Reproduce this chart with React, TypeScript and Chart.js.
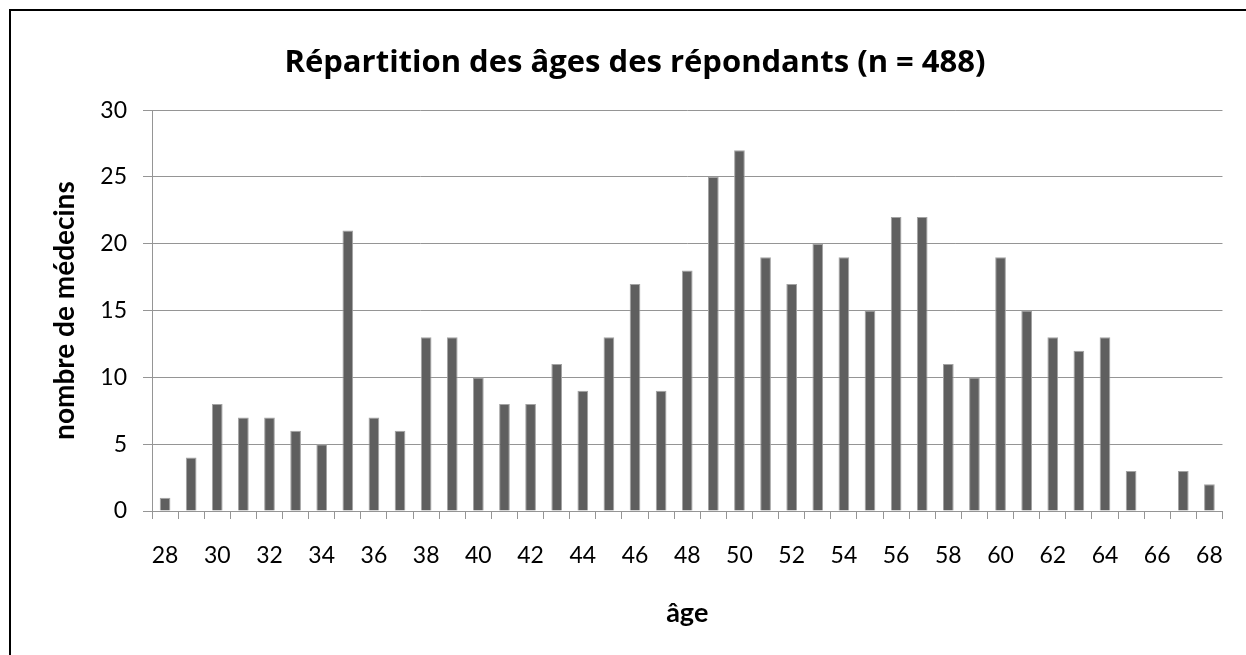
import React, { useEffect, useRef } from "react";
import { Chart, registerables } from "chart.js";

Chart.register(...registerables);

const ages: string[] = [
  "28", "29", "30", "31", "32", "33", "34", "35", "36", "37",
  "38", "39", "40", "41", "42", "43", "44", "45", "46", "47",
  "48", "49", "50", "51", "52", "53", "54", "55", "56", "57",
  "58", "59", "60", "61", "62", "63", "64", "65", "66", "67", "68",
];

const counts: number[] = [
  1, 4, 8, 7, 7, 6, 5, 21, 7, 6,
  13, 13, 10, 8, 8, 11, 9, 13, 17, 9,
  18, 25, 27, 19, 17, 20, 19, 15, 22, 22,
  11, 10, 19, 15, 13, 12, 13, 3, 0, 3, 2,
];

const yTicks: number[] = [0, 5, 10, 15, 20, 25, 30];

const titleText = "Répartition des âges des répondants (n = 488)";
const yTitle = "nombre de médecins";
const xTitle = "âge";

const FONT = "Lato, 'Open Sans', sans-serif";
const TITLE_FONT = "'Open Sans', Lato, sans-serif";

export default function App() {
  const ref = useRef<HTMLCanvasElement | null>(null);

  useEffect(() => {
    if (!ref.current) return;
    const chart = new Chart(ref.current, {
      type: "bar",
      data: {
        labels: ages,
        datasets: [
          {
            data: counts,
            backgroundColor: "#5f5f5f",
            borderColor: "#a3a3a3",
            borderWidth: 1,
            barPercentage: 0.41,
            categoryPercentage: 1,
          },
        ],
      },
      options: {
        responsive: false,
        animation: false,
        devicePixelRatio: 1,
        layout: { padding: { left: 44, right: 20, top: 0, bottom: 0 } },
        plugins: {
          legend: { display: false },
          tooltip: { enabled: false },
          title: {
            display: true,
            text: titleText,
            color: "#000",
            font: { family: TITLE_FONT, size: 31, weight: "bold", lineHeight: 1.2 },
            padding: { top: 45, bottom: 28 },
          },
        },
        scales: {
          x: {
            offset: true,
            grid: {
              display: true,
              drawOnChartArea: false,
              drawTicks: true,
              tickLength: 8,
              color: "#959595",
              offset: true,
            },
            border: { display: true, color: "#959595", width: 1 },
            ticks: {
              autoSkip: false,
              maxRotation: 0,
              minRotation: 0,
              padding: 23,
              color: "#000",
              font: { family: FONT, size: 23, lineHeight: 1.2 },
              callback: (_v: any, i: number) => (i % 2 === 0 ? ages[i] : ""),
            },
            title: {
              display: true,
              text: xTitle,
              color: "#000",
              font: { family: FONT, size: 27, weight: "bold", lineHeight: 1.2 },
              padding: { top: 10, bottom: 26 },
            },
            afterFit: (scale: any) => {
              scale.height = 144;
            },
          },
          y: {
            min: 0,
            max: 30,
            afterBuildTicks: (scale: any) => {
              scale.ticks = yTicks.map((v) => ({ value: v }));
            },
            grid: {
              color: "#959595",
              lineWidth: 1,
              tickLength: 9,
              drawTicks: true,
            },
            border: { display: true, color: "#959595", width: 1 },
            ticks: {
              padding: 16,
              color: "#000",
              font: { family: FONT, size: 23, lineHeight: 1.2 },
            },
            title: {
              display: true,
              text: yTitle,
              color: "#000",
              font: { family: FONT, size: 28, weight: "bold", lineHeight: 1.2 },
              padding: { top: 4, bottom: 10 },
            },
            afterFit: (scale: any) => {
              scale.width = 108;
            },
          },
        },
      },
    });
    return () => chart.destroy();
  }, []);

  return (
    <div
      style={{
        position: "fixed",
        left: 0,
        top: 0,
        width: 1246,
        height: 655,
        overflow: "hidden",
        background: "#fff",
      }}
    >
      <div
        style={{
          position: "absolute",
          left: 9,
          top: 9,
          width: 1260,
          height: 680,
          border: "2px solid #000",
          boxSizing: "border-box",
        }}
      />
      <canvas
        ref={ref}
        width={1246}
        height={655}
        style={{ position: "absolute", left: 0, top: 0, width: 1246, height: 655 }}
      />
    </div>
  );
}
